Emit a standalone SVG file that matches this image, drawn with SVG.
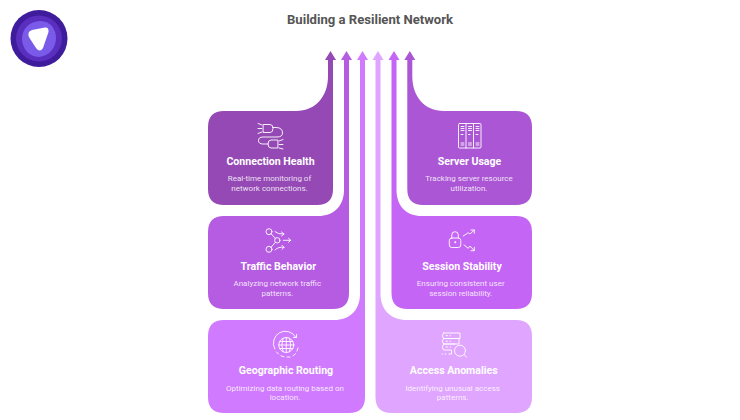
<svg xmlns="http://www.w3.org/2000/svg" width="740" height="420" viewBox="0 0 740 420">
<style>
text{font-family:Roboto,"Liberation Sans",sans-serif;text-anchor:middle}
.t{font-size:10.6px;font-weight:700;fill:#fff}
.d{font-size:8px;fill:#fff;fill-opacity:.85}
.i{fill:none;stroke:#fff;stroke-width:1;stroke-linecap:round;stroke-linejoin:round;opacity:.9}
</style>
<rect width="740" height="420" fill="#fff"/>
<g id="logo">
<circle cx="39" cy="38.500" r="28.500" fill="#3F1C9C"/>
<circle cx="39" cy="38.500" r="23" fill="#5A2EBF"/>
<path d="M39 21C50 20 56 29 56 38C56 48 49 56 39 57C29 57 22 48 22 39C22 29 29 22 39 21Z" fill="#7A5AE8"/>
<path d="M28.500 33Q28 36 29.500 38L36 48Q40 53 43 48L48.500 32Q49 27 45 27.500L32 30Q29 31 28.500 33Z" fill="#fff"/>
</g>
<text id="title" x="370" y="24" font-size="13.100" font-weight="700" style="fill:#555">Building a Resilient Network</text>
<g id="connectors">
<path id="arrow-connection" fill="#9549B5" d="M330.500 51L336 60H333V189Q333 205 317 205H224Q208 205 208 189V127Q208 111 224 111H296C316 111 328 96 328 76V60H325Z"/>
<path id="arrow-traffic" fill="#B65CE3" d="M346.500 51L352 60H349V293Q349 309 333 309H224Q208 309 208 293V232Q208 216 224 216H318C334 216 344 206 344 190V60H341Z"/>
<path id="arrow-geographic" fill="#D07BFF" d="M362.500 51L368 60H365V397Q365 413 349 413H224Q208 413 208 397V336Q208 320 224 320H334C350 320 360 310 360 294V60H357Z"/>
<path id="arrow-access" fill="#E0A5FF" d="M378 51L383.500 60H380.500V294C380.500 310 391 320 407 320H516Q532 320 532 336V397Q532 413 516 413H391.500Q375.500 413 375.500 397V60H372.500Z"/>
<path id="arrow-session" fill="#C565F5" d="M394 51L399.500 60H396.500V190C396.500 206 406 216 422 216H516Q532 216 532 232V293Q532 309 516 309H407.500Q391.500 309 391.500 293V60H388.500Z"/>
<path id="arrow-server" fill="#AB56D4" d="M409.800 51L415.300 60H412.300V76C412.300 96 424 111 444 111H516Q532 111 532 127V189Q532 205 516 205H423Q407.300 205 407.300 189V60H404.300Z"/>
</g>
<g id="connection-health">
<path class="i" d="M263.500 124.500H270Q273 124.500 273 128.500Q273 132.500 270 132.500H263.500ZM273 127.500H276Q282.500 127.500 282.500 133Q282.500 137 277 137H263Q258.500 137 258.500 140.500Q258.500 144 263 144H268M277.500 140H271Q268 140 268 144Q268 148 271 148H277.500ZM258 123.500L262 125M258 128.500H262M258 133.500L262 132M279 141L283 139.500M279 144.500H283M279 148L283 149"/>
<text class="t" x="270.500" y="165">Connection Health</text>
<text class="d" x="269.500" y="181">Real-time monitoring of</text>
<text class="d" x="269.500" y="191">network connections.</text>
</g>
<g id="traffic-behavior">
<path class="i" d="M271 233.700L275.500 238.500M271 247.300L275.500 242.300M275 231.700Q278 234.500 284 234M281.500 232L284 234L281.500 236M283.300 240.300H290.700M288.500 238.300L290.700 240.300L288.500 242.300M275 250Q278 246.500 284 247.300M282 245.300L284 247.300L282 249.300"/>
<circle class="i" cx="269" cy="231.700" r="3"/><circle class="i" cx="277.300" cy="240.300" r="2.700"/><circle class="i" cx="269" cy="249.300" r="3"/>
<text class="t" x="278.300" y="269.500">Traffic Behavior</text>
<text class="d" x="277.300" y="286">Analyzing network traffic</text>
<text class="d" x="277.300" y="296">patterns.</text>
</g>
<g id="geographic-routing">
<circle class="i" cx="286.300" cy="345" r="7.500"/>
<path class="i" d="M278.800 345H293.800M279.800 341.500H292.800M279.800 348.500H292.800M286.300 337.500V352.500M283 338.500Q280.500 345 283 351.500M289.600 338.500Q292 345 289.600 351.500"/>
<path class="i" d="M296 337.500A12 12 0 0 0 274.800 349M276.500 352L278.500 354M281 355.800L284 356.800M287 357H290M293 355.800L295.500 353.800M297 351L298 348M296.500 334.500V337.500H293.500"/>
<text class="t" x="286" y="374">Geographic Routing</text>
<text class="d" x="285" y="391">Optimizing data routing based on</text>
<text class="d" x="285" y="400">location.</text>
</g>
<g id="access-anomalies">
<path class="i" d="M443.500 333H460V338.500H443.500Q441 336 443.500 333ZM443.500 338.500H459V344H443.500Q441 341 443.500 338.500ZM443.500 344H455M443.500 344Q441 347 443.500 350H451.500V354H449"/>
<path class="i" d="M442 354H442.500M445 354H446"/>
<circle class="i" cx="460" cy="350.700" r="5.500"/>
<path class="i" d="M464 354.700L466.700 357.200M446 335.700H447.500M450 335.700H450.500M446 341.200H447.500M450 341.200H450.500M446 347H447.500M450 347H450.500"/>
<text class="t" x="453.800" y="374">Access Anomalies</text>
<text class="d" x="452.700" y="391">Identifying unusual access</text>
<text class="d" x="452.700" y="400">patterns.</text>
</g>
<g id="session-stability">
<rect class="i" x="449.300" y="238" width="11.500" height="9.500" rx="2.500"/>
<path class="i" d="M451.800 238V235Q451.800 231.700 455 231.700Q458.300 231.700 458.300 235V238M463.300 236L468.300 232.700L470 234L474.300 230M471 230H474.300V233.300M464 245L468.300 248.300L470 246L474.300 250.700M474.300 247.300V250.700H471"/>
<circle cx="455.300" cy="242.300" r="1" fill="#fff"/>
<text class="t" x="462" y="269.500">Session Stability</text>
<text class="d" x="460.700" y="286">Ensuring consistent user</text>
<text class="d" x="460.700" y="296">session reliability.</text>
</g>
<g id="server-usage">
<rect class="i" x="458.500" y="123.500" width="22.500" height="24.500" rx="1"/>
<path class="i" d="M466 123.500V148M473.500 123.500V148M461 126.500H464M461 128.500H464M461 130.500H464M461 134.500H463M461 143H464M461 145H464M468.500 126.500H471.500M468.500 128.500H471.500M468.500 130.500H471.500M468.500 134.500H470M468.500 143H471.500M468.500 145H471.500M476 126.500H479M476 128.500H479M476 130.500H479M476 134.500H478M476 143H479M476 145H479"/>
<text class="t" x="469.500" y="165">Server Usage</text>
<text class="d" x="469" y="181">Tracking server resource</text>
<text class="d" x="469" y="191">utilization.</text>
</g>
</svg>
